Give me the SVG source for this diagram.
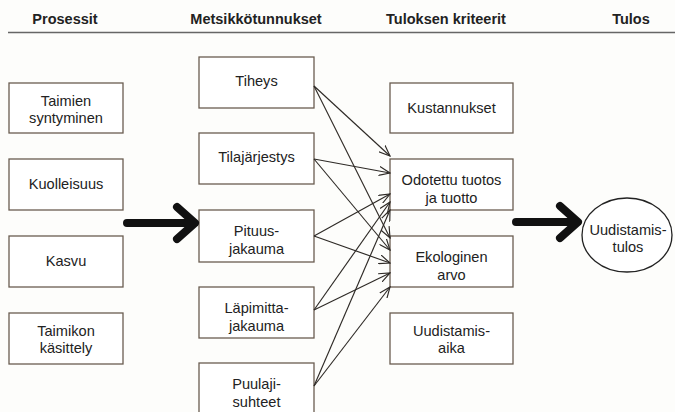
<svg xmlns="http://www.w3.org/2000/svg" width="675" height="412" viewBox="0 0 675 412">
<defs>
<style>
.bx{fill:#fff;stroke:#6a5d50;stroke-width:1.3}
.t{font-family:"Liberation Sans",Arial,sans-serif;font-size:14.6px;fill:#222;text-anchor:middle}
.h{font-family:"Liberation Sans",Arial,sans-serif;font-size:14.5px;font-weight:bold;fill:#222;text-anchor:middle}
.c{stroke:#2e2a26;stroke-width:1.15;fill:none;marker-end:url(#ah)}
.big{stroke:#111;stroke-width:8;fill:none;stroke-linecap:round;stroke-linejoin:round}
</style>
<marker id="ah" viewBox="0 0 12 10" refX="11" refY="5" markerWidth="12" markerHeight="10" markerUnits="userSpaceOnUse" orient="auto">
<path d="M0,0.5 L11,5 L0,9.5" fill="none" stroke="#2e2a26" stroke-width="1.15"/>
</marker>
</defs>
<rect width="675" height="412" fill="#fdfdfb"/>
<g id="header">
<text class="h" x="65" y="24">Prosessit</text>
<text class="h" x="256" y="24">Metsikkötunnukset</text>
<text class="h" x="446" y="24">Tuloksen kriteerit</text>
<text class="h" x="631" y="24">Tulos</text>
<line x1="8" y1="32.5" x2="675" y2="32.5" stroke="#666" stroke-width="1.5"/>
</g>
<g id="n-taimien"><rect class="bx" x="9" y="83" width="114" height="50"/><text class="t" x="66" y="106">Taimien</text><text class="t" x="66" y="123">syntyminen</text></g>
<g id="n-kuolleisuus"><rect class="bx" x="9" y="159" width="114" height="51"/><text class="t" x="66" y="189">Kuolleisuus</text></g>
<g id="n-kasvu"><rect class="bx" x="9" y="236" width="114" height="51"/><text class="t" x="66" y="266">Kasvu</text></g>
<g id="n-taimikon"><rect class="bx" x="9" y="313" width="114" height="51"/><text class="t" x="66" y="336">Taimikon</text><text class="t" x="66" y="353">käsittely</text></g>
<g id="n-tiheys"><rect class="bx" x="199" y="57" width="115" height="51"/><text class="t" x="256.5" y="86">Tiheys</text></g>
<g id="n-tila"><rect class="bx" x="199" y="133" width="115" height="51"/><text class="t" x="256.5" y="162">Tilajärjestys</text></g>
<g id="n-pituus"><rect class="bx" x="199" y="210" width="115" height="52"/><text class="t" x="256.5" y="236">Pituus-</text><text class="t" x="256.5" y="254">jakauma</text></g>
<g id="n-lapimitta"><rect class="bx" x="199" y="287" width="115" height="51"/><text class="t" x="256.5" y="313">Läpimitta-</text><text class="t" x="256.5" y="331">jakauma</text></g>
<g id="n-puulaji"><rect class="bx" x="199" y="363" width="115" height="52"/><text class="t" x="256.5" y="389">Puulaji-</text><text class="t" x="256.5" y="407">suhteet</text></g>
<g id="n-kustannukset"><rect class="bx" x="390" y="83" width="123" height="50"/><text class="t" x="451.5" y="113">Kustannukset</text></g>
<g id="n-odotettu"><rect class="bx" x="390" y="159" width="123" height="51"/><text class="t" x="451.5" y="185">Odotettu tuotos</text><text class="t" x="451.5" y="203">ja tuotto</text></g>
<g id="n-ekologinen"><rect class="bx" x="390" y="236" width="123" height="51"/><text class="t" x="451.5" y="262">Ekologinen</text><text class="t" x="451.5" y="280">arvo</text></g>
<g id="n-uudistamisaika"><rect class="bx" x="390" y="313" width="123" height="51"/><text class="t" x="451.5" y="336">Uudistamis-</text><text class="t" x="451.5" y="353">aika</text></g>
<g id="n-tulos"><ellipse cx="627" cy="235" rx="45" ry="37" fill="#fff" stroke="#222" stroke-width="1.3"/><text class="t" x="628" y="235">Uudistamis-</text><text class="t" x="628" y="252">tulos</text></g>
<g id="connectors">
<path class="big" d="M127,223 L194,223 M177,207 L195,223 L177,239"/>
<path class="big" d="M516,222 L576,222 M560,206 L578,222 L560,238"/>
<path class="c" d="M314,86 L390,156"/>
<path class="c" d="M314,86 L390,238"/>
<path class="c" d="M314,159 L390,173"/>
<path class="c" d="M314,159 L390,250"/>
<path class="c" d="M314,236 L390,194"/>
<path class="c" d="M314,236 L390,263"/>
<path class="c" d="M314,310 L390,202"/>
<path class="c" d="M314,310 L390,273"/>
<path class="c" d="M314,386 L390,210"/>
<path class="c" d="M314,386 L390,287"/>
</g>
</svg>
